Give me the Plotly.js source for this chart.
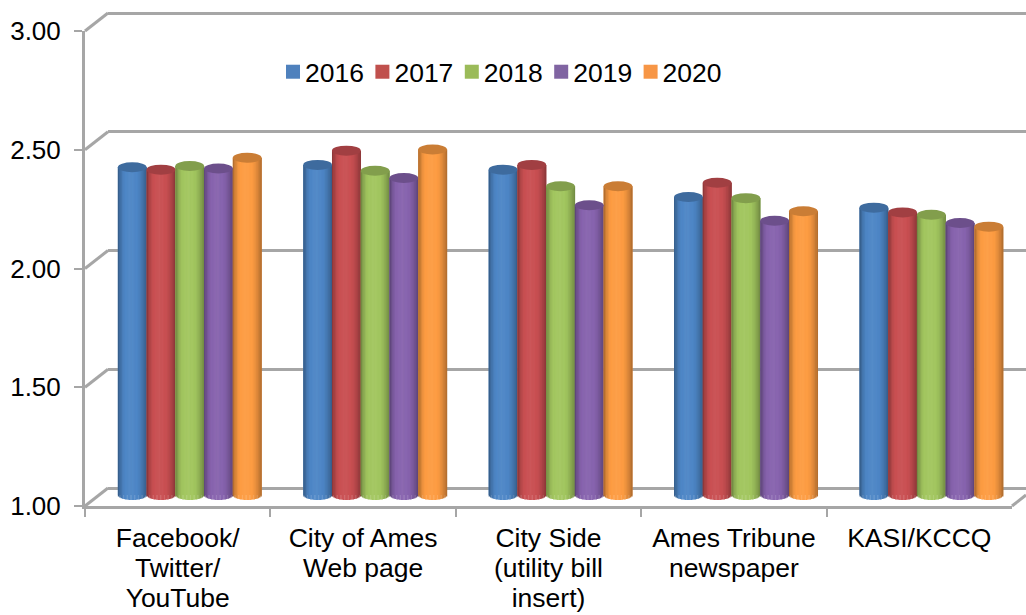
<!DOCTYPE html>
<html><head><meta charset="utf-8">
<script src="https://cdn.plot.ly/plotly-3.0.1.min.js"></script>
<style>html,body{margin:0;padding:0;background:#fff;overflow:hidden}</style>
</head><body><div id="chart" style="width:1026px;height:615px"></div>
<script>
const categories = ["Facebook/<br>Twitter/<br>YouTube","City of Ames<br>Web page","City Side<br>(utility bill<br>insert)","Ames Tribune<br>newspaper","KASI/KCCQ"];
const tickValues = [1,1.5,2,2.5,3];
const years = ["2016","2017","2018","2019","2020"];
const v2016 = [2.38,2.39,2.37,2.255,2.21];
const v2017 = [2.37,2.45,2.39,2.315,2.19];
const v2018 = [2.385,2.365,2.30,2.25,2.18];
const v2019 = [2.375,2.335,2.22,2.155,2.145];
const v2020 = [2.42,2.455,2.30,2.195,2.13];
const seriesValues = [v2016,v2017,v2018,v2019,v2020];
const colors = ["#4F81BD","#C0504D","#9BBB59","#8064A2","#F79646"];
const bodyColors = ["#4D86C6","#C94F52","#A2C65F","#8763AE","#FD9C42"];

const W=1026,H=615, FONT='"Liberation Sans", Arial, sans-serif', GRID='#A6A6A6';
const fx=p=>p/W, fy=p=>1-p/H;
const frontL=85, frontR=1012, frontB=506, frontT=31;
const depthX=23, depthY=18, midX=12, midY=11;
const unit=(frontB-frontT)/2;
const barW=0.155, strips=21;
const capU=5/unit;        // half height of the cylinder cap, in axis units
const yMin=0.9, gridPad=0.04;

function shade(hex,f){
  const n=parseInt(hex.slice(1),16);
  const c=[n>>16,(n>>8)&255,n&255].map(v=>Math.min(255,Math.round(f>=1? v+(255-v)*(f-1): v*f)));
  return 'rgb('+c.join(',')+')';
}
const traces=[];
traces.push({type:'scatter',mode:'none',x:categories,y:seriesValues[0],xaxis:'x',yaxis:'y',showlegend:false,hoverinfo:'skip'});
traces.push({type:'scatter',mode:'none',x:categories,y:seriesValues[0],xaxis:'x3',yaxis:'y3',showlegend:false,hoverinfo:'skip'});

const shapes=[];
seriesValues.forEach((vals,s)=>{
  const off=(-2.5+s)*barW;
  traces.push({type:'bar',name:years[s],x:categories,y:vals.map(v=>v-1),base:1,width:barW,offset:off,
    marker:{color:colors[s],line:{width:0}},xaxis:'x2',yaxis:'y2',hoverinfo:'skip'});
  for(let i=0;i<strips;i++){
    const u=-1+(2*i+1)/strips;
    const h=Math.sqrt(Math.max(0,1-u*u));
    let f=1;
    if(u<-0.5) f=1-0.34*Math.pow((-0.5-u)/0.5,1.5);
    else if(u>0.3) f=1-0.32*Math.pow((u-0.3)/0.7,1.5);
    else f=1+0.04*(1-Math.abs(u+0.1)/0.4);
    const base=1-capU*h;
    traces.push({type:'bar',showlegend:false,x:categories,y:vals.map(v=>v-base),base:base,
      width:barW/strips*1.2,offset:off+barW*i/strips,
      marker:{color:shade(bodyColors[s],f),line:{width:0}},xaxis:'x2',yaxis:'y2',hoverinfo:'skip'});
  }
  vals.forEach((v,c)=>{
    shapes.push({type:'circle',layer:'above',xref:'x2',yref:'y2',
      x0:c+off,x1:c+off+barW,y0:v-capU,y1:v+capU,
      fillcolor:shade(bodyColors[s],0.8),line:{width:0}});
  });
});
tickValues.forEach(t=>{
  const y=frontB-(t-1)*unit;
  shapes.push({type:'line',layer:'below',xref:'paper',yref:'paper',x0:fx(frontL),y0:fy(y),x1:fx(frontL+depthX),y1:fy(y-depthY),line:{color:GRID,width:3}});
});
shapes.push({type:'line',layer:'below',xref:'paper',yref:'paper',x0:fx(frontR),y0:fy(frontB),x1:fx(frontR+14),y1:fy(frontB-11),line:{color:GRID,width:3}});

const cat={type:'category',categoryorder:'array',categoryarray:categories,range:[-0.5,4.5]};
const layout={
  width:W,height:H,margin:{l:0,r:0,t:0,b:0},paper_bgcolor:'#fff',plot_bgcolor:'rgba(0,0,0,0)',
  barmode:'overlay',hovermode:false,font:{family:FONT,size:26,color:'#000'},
  xaxis:Object.assign({},cat,{domain:[fx(frontL+depthX),1],anchor:'y',visible:false,showgrid:false}),
  yaxis:{domain:[fy(frontB-depthY+gridPad*unit),fy(frontT-depthY-gridPad*unit)],range:[1-gridPad,3+gridPad],anchor:'x',tickvals:tickValues,showgrid:true,gridcolor:GRID,gridwidth:3,zeroline:false,showticklabels:false,ticks:'',showline:false},
  xaxis2:Object.assign({},cat,{domain:[fx(frontL+midX),fx(frontR+midX)],anchor:'y2',visible:false,showgrid:false}),
  yaxis2:{domain:[fy(frontB-midY+(1-yMin)*unit),fy(frontT-midY)],range:[yMin,3],anchor:'x2',visible:false,showgrid:false,zeroline:false},
  xaxis3:Object.assign({},cat,{domain:[fx(frontL),fx(frontR)],anchor:'y3',showgrid:false,showline:true,linecolor:GRID,linewidth:3,ticks:'outside',ticklen:8,tickwidth:2,tickcolor:GRID,tickson:'boundaries',tickfont:{family:FONT,size:26.5,color:'#000'},ticklabelstandoff:6,automargin:false,tickangle:0}),
  yaxis3:{domain:[fy(frontB),fy(frontT)],range:[1,3],anchor:'x3',tickvals:tickValues,tickformat:'.2f',showgrid:false,zeroline:false,showline:true,linecolor:GRID,linewidth:3,ticks:'outside',ticklen:8,tickwidth:2,tickcolor:GRID,tickfont:{family:FONT,size:26,color:'#000'},ticklabelstandoff:8,automargin:false},
  legend:{orientation:'h',x:fx(273),xanchor:'left',y:fy(48),yanchor:'top',font:{family:FONT,size:26.5,color:'#000'},itemwidth:30,traceorder:'normal',bgcolor:'rgba(0,0,0,0)',itemclick:false,itemdoubleclick:false},
  shapes:shapes
};
Plotly.newPlot('chart',traces,layout,{displayModeBar:false,staticPlot:true}).then(gd=>{
  // Excel's tighter category-label line spacing (dy is counted from the first line)
  gd.querySelectorAll('.x3tick text tspan.line, .xtick text tspan.line').forEach(t=>{
    const d=parseFloat(t.getAttribute('dy'));
    if(d>0) t.setAttribute('dy',Math.round(d/1.3)*30+'px');
  });
  // Excel's compact legend: larger swatches and tighter item spacing
  const items=gd.querySelectorAll('.legend .traces');
  const first=items.length? (items[0].getAttribute('transform')||'').match(/translate\(([-\d.]+)[ ,]*([-\d.]*)/):null;
  const x0=first?parseFloat(first[1]):0, y0=first?parseFloat(first[2]||0):0;
  items.forEach((g,i)=>{
    g.setAttribute('transform','translate('+(x0+i*89.4)+','+y0+')');
    const txt=g.querySelector('text.legendtext');
    if(txt){ txt.setAttribute('x',parseFloat(txt.getAttribute('x'))-8); }
    g.querySelectorAll('.legendbar path, .legendpoints path, path.legendundefined').forEach(p=>p.setAttribute('d','M7,7H-7V-7H7Z'));
  });
  const clip=gd.querySelector('.legend .scrollbox'); if(clip) clip.removeAttribute('clip-path');
  const lg=gd.querySelector('.legend'); if(lg) lg.setAttribute('clip-path','');
});
</script></body></html>
